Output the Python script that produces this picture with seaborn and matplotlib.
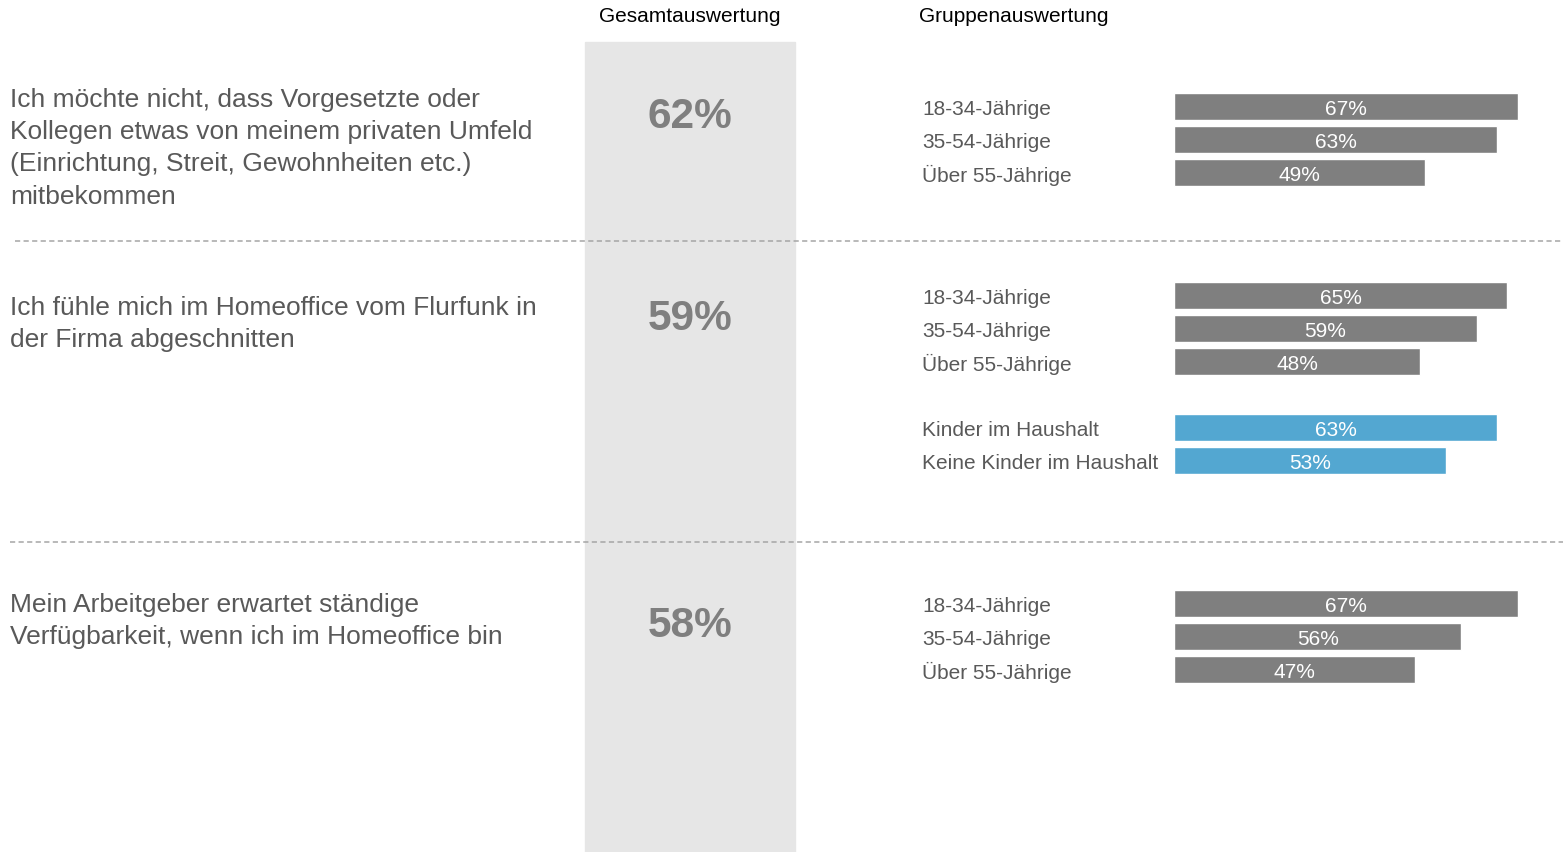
import pandas as pd
import matplotlib.pyplot as plt
import seaborn as sns
from matplotlib.lines import Line2D
from matplotlib.patches import Rectangle

# Data
questions = [
    "Ich möchte nicht, dass Vorgesetzte oder\nKollegen etwas von meinem privaten Umfeld\n(Einrichtung, Streit, Gewohnheiten etc.)\nmitbekommen",
    "Ich fühle mich im Homeoffice vom Flurfunk in\nder Firma abgeschnitten",
    "Mein Arbeitgeber erwartet ständige\nVerfügbarkeit, wenn ich im Homeoffice bin",
]
overall = [62, 59, 58]
age_groups = ["18-34-Jährige", "35-54-Jährige", "Über 55-Jährige"]
age_values = [[67, 63, 49], [65, 59, 48], [67, 56, 47]]
kid_groups = ["Kinder im Haushalt", "Keine Kinder im Haushalt"]
kid_values = [None, [63, 53], None]

# Layout in pixels
W, H = 1563, 853
fx = lambda px: px / W
fy = lambda py: 1 - py / H
bar_x0 = 1174          # x pixel of 0 %
px_per_pct = 5.13
row_h = 33
first_row = [107.5, 296.5, 604.5]
question_top = [88, 296, 593]
big_baseline = [128, 330, 637]
divider_y = [(242, 15), (543, 10)]

text_grey = "#595959"
bar_grey = "#7f7f7f"
blue = "#53a7d1"

sns.set_style("white")
plt.rcParams["font.family"] = ["Liberation Sans", "DejaVu Sans"]

fig = plt.figure(figsize=(W / 100, H / 100), dpi=100)

# grey column behind the overall values
fig.add_artist(Rectangle((fx(585), 0), fx(795) - fx(585), fy(43),
                         transform=fig.transFigure, color="#e6e6e6", zorder=0))

fig.text(fx(690), fy(16), "Gesamtauswertung", ha="center", va="center",
         fontsize=15, color="black")
fig.text(fx(919), fy(16), "Gruppenauswertung", ha="left", va="center",
         fontsize=15, color="black")

for y, x0 in divider_y:
    fig.add_artist(Line2D([fx(x0), 1], [fy(y), fy(y)], transform=fig.transFigure,
                          color="#a6a6a6", lw=1.1, dashes=(3.4, 2.2), zorder=3))

for i, q in enumerate(questions):
    fig.text(fx(10), fy(question_top[i]), q, ha="left", va="top",
             fontsize=19, color=text_grey, linespacing=1.43)
    fig.text(fx(690), fy(big_baseline[i]), f"{overall[i]}%", ha="center",
             va="baseline", fontsize=30.5, fontweight="bold", color=bar_grey)

    labels = list(age_groups)
    values = list(age_values[i])
    kinds = ["Alter"] * len(age_groups)
    order = list(age_groups)
    if kid_values[i] is not None:
        labels += kid_groups
        values += kid_values[i]
        kinds += ["Kinder"] * len(kid_groups)
        order += [" "] + kid_groups
    df = pd.DataFrame({"Gruppe": labels, "Anteil": values, "Art": kinds})

    n = len(order)
    top = first_row[i] - row_h / 2
    ax = fig.add_axes([fx(bar_x0), fy(top + n * row_h), 1 - fx(bar_x0), n * row_h / H])
    sns.barplot(data=df, x="Anteil", y="Gruppe", hue="Art", order=order,
                palette={"Alter": bar_grey, "Kinder": blue}, width=0.82,
                dodge=False, errorbar=None, legend=False, orient="h",
                saturation=1, ax=ax)
    ax.set_xlim(0, (W - bar_x0) / px_per_pct)
    ax.set_ylim(n - 0.5, -0.5)
    ax.set_facecolor("none")
    for s in ax.spines.values():
        s.set_visible(False)
    ax.set_xticks([])
    ax.set_xlabel("")
    ax.set_ylabel("")
    ax.tick_params(axis="y", length=0, pad=(bar_x0 - 922) * 0.72,
                   labelsize=15, labelcolor=text_grey)
    for t in ax.get_yticklabels():
        t.set_ha("left")
    for c in ax.containers:
        for t in ax.bar_label(c, fmt="{:.0f}%", label_type="center",
                              color="white", fontsize=15):
            t.set_va("center_baseline")

fig.savefig("out.png", dpi=100)
